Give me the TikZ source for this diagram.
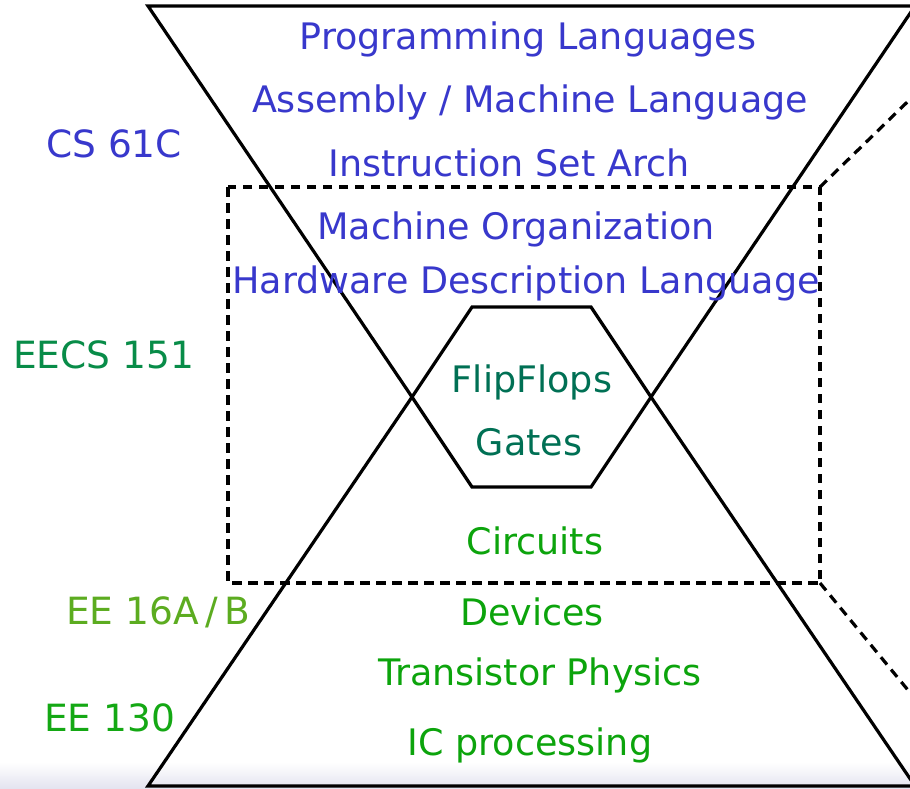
\documentclass[tikz,border=0pt]{standalone}
\usepackage{fontspec}
\setmainfont{DejaVu Sans}
\definecolor{csblue}{RGB}{56,56,204}
\definecolor{eecsgreen}{RGB}{8,140,72}
\definecolor{gategreen}{RGB}{0,112,84}
\definecolor{circgreen}{RGB}{12,164,12}
\definecolor{eeagreen}{RGB}{92,172,32}
\definecolor{eebgreen}{RGB}{20,168,20}
\definecolor{floorshade}{RGB}{228,228,240}
\begin{document}
\begin{tikzpicture}[x=1pt,y=-1pt,
  solidline/.style={line width=3.2pt,black,line join=miter},
  dashline/.style={line width=3.2pt,black,dash pattern=on 9.5pt off 6.5pt},
  layer/.style={font=\fontsize{36.5}{42}\selectfont,anchor=base,inner sep=0pt},
  course/.style={font=\fontsize{37.5}{42}\selectfont,anchor=base west,inner sep=0pt}]
\useasboundingbox (0,0) rectangle (910,788);
\clip (0,0) rectangle (910,788);
% soft floor band at the bottom
\shade[top color=white,bottom color=floorshade] (0,762) rectangle (910,788);

% hourglass corners and waist (hexagon) vertices
\coordinate (tl) at (148,6);
\coordinate (tr) at (915,6);
\coordinate (bl) at (148,786);
\coordinate (br) at (915,786);
\coordinate (hl) at (412,397);
\coordinate (hr) at (651,397);
\coordinate (hut) at (472,307);
\coordinate (hvt) at (591,307);
\coordinate (hub) at (472,487);
\coordinate (hvb) at (591,487);

% dashed box and its perspective edges
\coordinate (dtl) at (228,187);
\coordinate (dtr) at (820,187);
\coordinate (dbl) at (228,583);
\coordinate (dbr) at (820,583);
\coordinate (dfar1) at (935,75);
\coordinate (dfar2) at (935,723);
\draw[dashline] (dtl) rectangle (dbr);
\draw[dashline] (dtr) -- (dfar1);
\draw[dashline] (dbr) -- (dfar2);

% hourglass
\draw[solidline] (tr) -- (tl) -- (hl) -- (bl) -- (br) -- (hr) -- cycle;
% hexagon at the waist
\draw[solidline] (hl) -- (hut) -- (hvt) -- (hr) -- (hvb) -- (hub) -- cycle;

% abstraction layers
\node[layer,text=csblue] (pl) at (528,49) {Programming Languages};
\node[layer,text=csblue] (asm) at (530,112) {Assembly / Machine Language};
\node[layer,text=csblue] (isa) at (509,176) {Instruction Set Arch};
\node[layer,text=csblue] (morg) at (516,239) {Machine Organization};
\node[layer,text=csblue] (hdl) at (526,293) {Hardware Description Language};
\node[layer,text=gategreen] (ff) at (532,392) {FlipFlops};
\node[layer,text=gategreen] (gates) at (529,455) {Gates};
\node[layer,text=circgreen] (circ) at (535,554) {Circuits};
\node[layer,text=circgreen] (dev) at (532,625) {Devices};
\node[layer,text=circgreen] (tp) at (540,685) {Transistor Physics};
\node[layer,text=circgreen] (ic) at (530,755) {IC processing};

% courses
\node[course,text=csblue] (cs) at (46,157) {CS 61C};
\node[course,text=eecsgreen] (eecs) at (13,368) {EECS 151};
\node[course,text=eeagreen] (eea) at (66,624) {EE 16A\,/\,B};
\node[course,text=eebgreen] (eeb) at (44,731) {EE 130};
\end{tikzpicture}
\end{document}
